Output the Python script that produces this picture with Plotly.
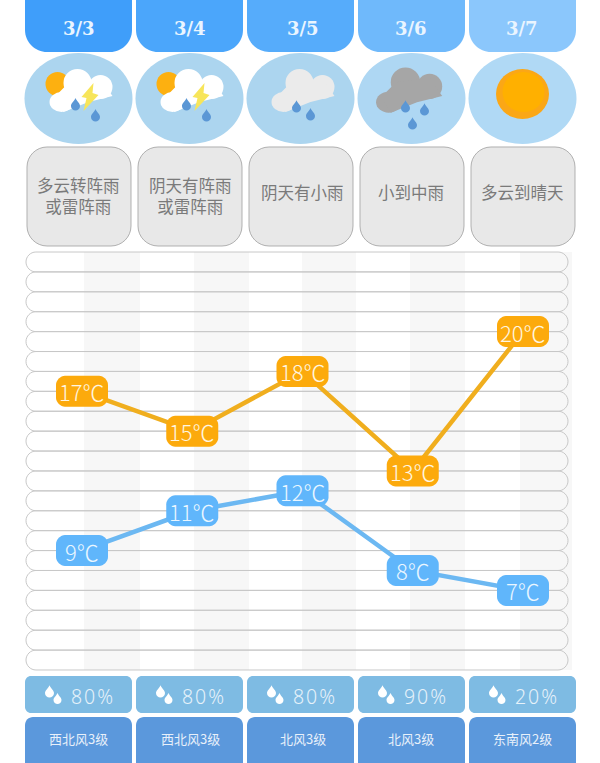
import plotly.graph_objects as go

# forecast values
dates = ['3/3', '3/4', '3/5', '3/6', '3/7']
weather = ['多云转阵雨<br>或雷阵雨', '阴天有阵雨<br>或雷阵雨', '阴天有小雨', '小到中雨', '多云到晴天']
high_temps = [17, 15, 18, 13, 20]
low_temps = [9, 11, 12, 8, 7]
rain_chance = [80, 80, 80, 90, 20]
wind = ['西北风3级', '西北风3级', '北风3级', '北风3级', '东南风2级']

header_colors = ['#3f9efa', '#4ba6fb', '#56acfb', '#6fb9fb', '#8bc7fc']
icon_colors = ['#acd5ef', '#acd5ef', '#acd5ef', '#aed7f3', '#b0d9f5']

WIDTH = 600
HEIGHT = 763
CJK = 'Noto Sans CJK SC'

# page layout in pixels
col_lefts = [25, 136, 247, 358, 469]
col_width = 107
col_centers = [left + col_width / 2 for left in col_lefts]
text_centers = [79, 190, 302.5, 410.5, 522]
band_edges = [(84, 140), (194, 249), (302, 356), (410, 465), (520, 572)]
rows_top = 252
rows_bottom = 670
row_h = (rows_bottom - rows_top) / 21
y_20 = rows_top + 4 * row_h  # where 20 degrees sits on the page
x_first = 82
x_step = 110.25


def px(x):
    return x / WIDTH


def py(y):
    return 1 - y / HEIGHT


def rounded_path(x0, y0, x1, y1, top_r, bottom_r):
    k = 0.45  # control point offset for the corner curves
    pts = [
        ('M', (x0 + top_r, y0)),
        ('L', (x1 - top_r, y0)),
        ('C', (x1 - top_r * k, y0), (x1, y0 + top_r * k), (x1, y0 + top_r)),
        ('L', (x1, y1 - bottom_r)),
        ('C', (x1, y1 - bottom_r * k), (x1 - bottom_r * k, y1), (x1 - bottom_r, y1)),
        ('L', (x0 + bottom_r, y1)),
        ('C', (x0 + bottom_r * k, y1), (x0, y1 - bottom_r * k), (x0, y1 - bottom_r)),
        ('L', (x0, y0 + top_r)),
        ('C', (x0, y0 + top_r * k), (x0 + top_r * k, y0), (x0 + top_r, y0)),
    ]
    parts = []
    for item in pts:
        coords = ' '.join(f'{px(x):.5f},{py(y):.5f}' for x, y in item[1:])
        parts.append(item[0] + coords)
    return ' '.join(parts) + ' Z'


shapes = []


def add_box(x0, y0, x1, y1, fill, top_r=0, bottom_r=None, line_color=None, line_width=1):
    bottom_r = top_r if bottom_r is None else bottom_r
    shapes.append(dict(
        type='path', xref='paper', yref='paper', layer='below',
        path=rounded_path(x0, y0, x1, y1, top_r, bottom_r),
        fillcolor=fill,
        line=dict(color=line_color or fill, width=line_width if line_color else 0),
    ))


def add_ellipse(cx, cy, rx, ry, fill):
    shapes.append(dict(
        type='circle', xref='paper', yref='paper', layer='below',
        x0=px(cx - rx), x1=px(cx + rx), y0=py(cy + ry), y1=py(cy - ry),
        fillcolor=fill, line=dict(width=0),
    ))


def add_poly(points, fill):
    path = 'M' + ' L'.join(f'{px(x):.5f},{py(y):.5f}' for x, y in points) + ' Z'
    shapes.append(dict(
        type='path', xref='paper', yref='paper', layer='below',
        path=path, fillcolor=fill, line=dict(width=0),
    ))


def add_drop(cx, cy, r, fill='#5b97d5'):
    top = cy - r * 1.75
    path = (
        f'M{px(cx):.5f},{py(top):.5f} '
        f'C{px(cx + r * 0.3):.5f},{py(cy - r):.5f} {px(cx + r):.5f},{py(cy - r * 0.6):.5f} {px(cx + r):.5f},{py(cy):.5f} '
        f'C{px(cx + r):.5f},{py(cy + r * 1.33):.5f} {px(cx - r):.5f},{py(cy + r * 1.33):.5f} {px(cx - r):.5f},{py(cy):.5f} '
        f'C{px(cx - r):.5f},{py(cy - r * 0.6):.5f} {px(cx - r * 0.3):.5f},{py(cy - r):.5f} {px(cx):.5f},{py(top):.5f} Z'
    )
    shapes.append(dict(
        type='path', xref='paper', yref='paper', layer='below',
        path=path, fillcolor=fill, line=dict(width=0),
    ))


def add_cloud(cx, cy, fill, s=1.0):
    add_ellipse(cx - 1 * s, cy - 15 * s, 14 * s, 14 * s, fill)
    add_ellipse(cx + 22 * s, cy - 11 * s, 12 * s, 12 * s, fill)
    add_ellipse(cx - 17 * s, cy + 4 * s, 12 * s, 10 * s, fill)
    add_poly([
        (cx - 24 * s, cy - 1 * s), (cx - 10 * s, cy - 15 * s), (cx + 22 * s, cy - 19 * s),
        (cx + 34 * s, cy - 2 * s), (cx + 10 * s, cy + 4 * s), (cx - 15 * s, cy + 14 * s),
    ], fill)


def add_storm_icon(cx, cy):
    add_ellipse(cx - 21, cy - 14, 12, 12, '#fdb010')
    add_cloud(cx, cy, '#ffffff')
    add_poly([
        (cx + 15, cy - 15), (cx + 3, cy - 1), (cx + 8, cy), (cx + 5, cy + 13),
        (cx + 20, cy - 3), (cx + 14, cy - 5),
    ], '#f7e55a')
    add_drop(cx - 3, cy + 8, 4.5)
    add_drop(cx + 17, cy + 19, 4.5)


# day columns: header tab, icon disc, description box
for i, left in enumerate(col_lefts):
    center = col_centers[i]
    add_box(left, -30, left + col_width, 52, header_colors[i], 22)
    add_ellipse(center, 98.5, 54, 45.5, icon_colors[i])
    add_box(left + 2, 147, left + col_width - 1, 246, '#e8e8e8', 20, line_color='#b0b0b0', line_width=1)

add_storm_icon(col_centers[0], 98)
add_storm_icon(col_centers[1], 98)

add_cloud(col_centers[2], 98, '#ebebeb')
add_drop(col_centers[2] - 4, 108, 4.5)
add_drop(col_centers[2] + 10, 116, 4.5)

add_cloud(col_centers[3] - 5, 98, '#a6a6a6', 1.05)
add_drop(col_centers[3] - 6, 108, 4.5)
add_drop(col_centers[3] + 13, 111, 4.5)
add_drop(col_centers[3] + 1, 125, 4.5)

add_ellipse(col_centers[4], 94, 26.5, 25, '#fba716')
add_ellipse(col_centers[4] + 1, 92, 21, 20, '#ffb000')

# chart background: shaded bands and one pill per degree
for x0, x1 in band_edges:
    add_box(x0, rows_top, x1, rows_bottom, '#f7f7f7')
for r in range(21):
    top = rows_top + r * row_h
    add_box(26, top, 568, top + row_h, 'rgba(0,0,0,0)', row_h / 2, line_color='#c8c8c8', line_width=1)

# bottom rows
for i, left in enumerate(col_lefts):
    add_box(left, 676, left + col_width, 713, '#7ebbe3', 6)
    add_box(left, 717, left + col_width, 785, '#5b98dc', 8)
    center = col_centers[i]
    add_drop(center - 29, 693, 4.5, '#ffffff')
    add_drop(center - 21, 700, 4, '#ffffff')

fig = go.Figure()

x_pos = list(range(len(dates)))
fig.add_trace(go.Scatter(x=x_pos, y=high_temps, mode='lines', line=dict(color='#f0ae1e', width=4.5), hoverinfo='skip'))
fig.add_trace(go.Scatter(x=x_pos, y=low_temps, mode='lines', line=dict(color='#6cb8f2', width=4.5), hoverinfo='skip'))

annotations = []


def add_text(x, y, text, size, color, family=CJK, weight=None, xref='paper', yref='paper'):
    font = dict(family=family, size=size, color=color)
    if weight:
        font['weight'] = weight
    annotations.append(dict(
        x=x, y=y, xref=xref, yref=yref, text=text, showarrow=False,
        xanchor='center', yanchor='middle', font=font,
    ))


# rounded label pill, in pixels around its data point
w, h, r, k = 26, 15.5, 9, 4.5
pill = (
    f'M{-w + r},{-h} L{w - r},{-h} C{w - k},{-h} {w},{-h + k} {w},{-h + r} '
    f'L{w},{h - r} C{w},{h - k} {w - k},{h} {w - r},{h} '
    f'L{-w + r},{h} C{-w + k},{h} {-w},{h - k} {-w},{h - r} '
    f'L{-w},{-h + r} C{-w},{-h + k} {-w + k},{-h} {-w + r},{-h} Z'
)

# temperature labels sit on their data points
for temps, color, text_color in [(high_temps, '#fcaa0c', '#fff6e0'), (low_temps, '#60b6fb', '#eaf6ff')]:
    for i, t in enumerate(temps):
        shapes.append(dict(
            type='path', xref='x', yref='y', layer='above',
            xsizemode='pixel', ysizemode='pixel', xanchor=i, yanchor=t,
            path=pill, fillcolor=color, line=dict(width=0),
        ))
        add_text(i, t, f'{t}℃', 22, text_color, weight=300, xref='x', yref='y')

for i, center in enumerate(text_centers):
    add_text(px(center), py(28), dates[i], 18, '#eaf5ff', family='DejaVu Serif', weight='bold')

    text_y = 195.5 if '<br>' in weather[i] else 192.5
    add_text(px(center), py(text_y), weather[i], 16.5, '#7a7a7a')

    chance = '\u200a'.join(f'{rain_chance[i]}%')
    add_text(px(col_centers[i] + 13), py(696), chance, 19.5, '#e6f2fa', family='Noto Sans', weight=300)
    add_text(px(center), py(738), wind[i], 13, '#e8f0fa')

fig.update_layout(
    width=WIDTH,
    height=HEIGHT,
    margin=dict(l=0, r=0, t=0, b=0),
    paper_bgcolor='white',
    plot_bgcolor='rgba(0,0,0,0)',
    showlegend=False,
    shapes=shapes,
    annotations=annotations,
    xaxis=dict(
        visible=False,
        range=[-x_first / x_step, (WIDTH - x_first) / x_step],
    ),
    yaxis=dict(
        visible=False,
        range=[20 - (HEIGHT - y_20) / row_h, 20 + y_20 / row_h],
    ),
)

fig.write_html(
    'out.html',
    config={'displayModeBar': False},
    post_script="document.body.style.margin='0';",
)
